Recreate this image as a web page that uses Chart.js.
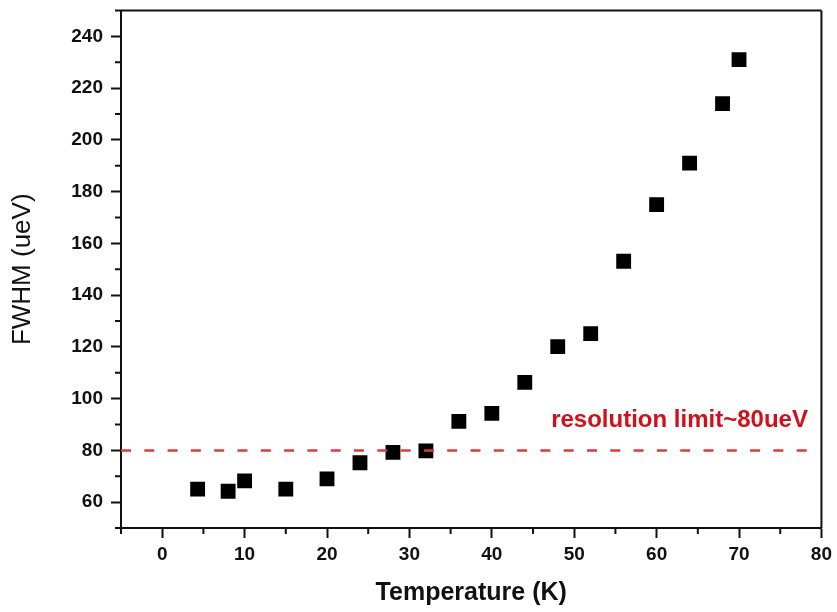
<!DOCTYPE html>
<html>
<head>
<meta charset="utf-8">
<script src="https://cdn.jsdelivr.net/npm/chart.js@4"></script>
<style>
  html, body { margin: 0; padding: 0; background: #fff; }
  #wrap { width: 837px; height: 612px; position: relative; }
</style>
</head>
<body>
<div id="wrap"><canvas id="fwhmChart"></canvas></div>
<script>
// --- data ---
const temperatures = [4.3, 8, 10, 15, 20, 24, 28, 32, 36, 40, 44, 48, 52, 56, 60, 64, 68, 70];
const fwhmValues   = [65, 64.2, 68.2, 65, 69, 75.2, 79.2, 79.8, 91.2, 94.3, 106.3, 120.1, 125.1, 153.1, 175, 191, 214, 231];

// resolution limit line
const limitX = [-5, 78.6];
const limitY = [80, 80];
const limitLabel = 'resolution limit~80ueV';

const xMajorTicks = [0, 10, 20, 30, 40, 50, 60, 70, 80];
const yMajorTicks = [60, 80, 100, 120, 140, 160, 180, 200, 220, 240];

const FONT = "'Liberation Sans', Arial, sans-serif";
const INK = '#111';

const isMajorX = v => xMajorTicks.includes(v);
const isMajorY = v => yMajorTicks.includes(v);

// box frame, minor ticks and the red annotation
const framePlugin = {
    id: 'frame',
    afterDraw(chart) {
        const { ctx, chartArea: a, scales } = chart;
        ctx.save();
        ctx.strokeStyle = INK;
        ctx.lineWidth = 2;
        ctx.beginPath();
        ctx.moveTo(a.left, a.top); ctx.lineTo(a.right, a.top);
        ctx.moveTo(a.right, a.top); ctx.lineTo(a.right, a.bottom);
        ctx.stroke();

        // minor ticks
        ctx.beginPath();
        scales.x.ticks.forEach(t => {
            if (isMajorX(t.value)) return;
            const px = scales.x.getPixelForValue(t.value);
            ctx.moveTo(px, a.bottom); ctx.lineTo(px, a.bottom + 6);
        });
        scales.y.ticks.forEach(t => {
            if (isMajorY(t.value)) return;
            const py = scales.y.getPixelForValue(t.value);
            ctx.moveTo(a.left, py); ctx.lineTo(a.left - 6, py);
        });
        ctx.stroke();

        // label above the dashed line
        ctx.fillStyle = '#d3101a';
        ctx.font = 'bold 24px ' + FONT;
        ctx.textAlign = 'right';
        ctx.textBaseline = 'alphabetic';
        const lx = scales.x.getPixelForValue(limitX[1]) - 2;
        const ly = scales.y.getPixelForValue(limitY[0]) - 23;
        ctx.fillText(limitLabel, lx, ly);
        ctx.restore();
    }
};

const ctx = document.getElementById('fwhmChart');
new Chart(ctx, {
    type: 'scatter',
    data: {
        datasets: [
            {
                label: 'limit',
                type: 'line',
                data: limitX.map((x, i) => ({ x, y: limitY[i] })),
                borderColor: '#e03a3e',
                borderWidth: 2.5,
                borderDash: [10, 13.3],
                pointRadius: 0,
                fill: false
            },
            {
                label: 'FWHM',
                data: temperatures.map((t, i) => ({ x: t, y: fwhmValues[i] })),
                pointStyle: 'rect',
                pointRadius: 10.5,
                pointHoverRadius: 10.5,
                backgroundColor: '#000',
                borderWidth: 0
            }
        ]
    },
    options: {
        responsive: true,
        maintainAspectRatio: false,
        animation: false,
        layout: { padding: { top: 9, right: 15, left: 0, bottom: 0 } },
        plugins: { legend: { display: false }, tooltip: { enabled: false } },
        scales: {
            x: {
                type: 'linear', min: -5, max: 80,
                afterFit: s => { s.height = 84; },
                border: { display: true, color: INK, width: 2 },
                grid: {
                    drawOnChartArea: false, tickLength: 10, tickWidth: 2,
                    tickColor: c => isMajorX(c.tick.value) ? INK : 'rgba(0,0,0,0)'
                },
                ticks: {
                    stepSize: 5, padding: 5, color: INK, maxRotation: 0, autoSkip: false,
                    font: { family: FONT, size: 19, weight: 'bold' },
                    callback: v => isMajorX(v) ? String(v) : ''
                },
                title: {
                    display: true, text: 'Temperature (K)', color: INK,
                    font: { family: FONT, size: 25, weight: 'bold' },
                    padding: { top: 0, bottom: 4 }
                }
            },
            y: {
                type: 'linear', min: 50, max: 250,
                afterFit: s => { s.width = 121; s.paddingTop = 0; s.paddingBottom = 0; },
                border: { display: true, color: INK, width: 2 },
                grid: {
                    drawOnChartArea: false, tickLength: 10, tickWidth: 2,
                    tickColor: c => isMajorY(c.tick.value) ? INK : 'rgba(0,0,0,0)'
                },
                ticks: {
                    stepSize: 10, padding: 8, color: INK, autoSkip: false,
                    font: { family: FONT, size: 19, weight: 'bold' },
                    callback: v => isMajorY(v) ? String(v) : ''
                },
                title: {
                    display: true, text: 'FWHM (ueV)', color: INK,
                    font: { family: FONT, size: 26, weight: 'normal' },
                    padding: { top: 7, bottom: 0 }
                }
            }
        }
    },
    plugins: [framePlugin]
});
</script>
</body>
</html>
